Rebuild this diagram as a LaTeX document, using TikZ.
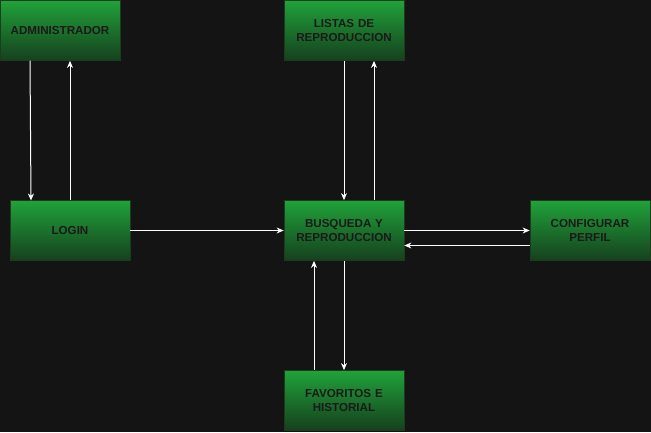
\documentclass[tikz,border=0pt]{standalone}
\usepackage{fontspec}
\setmainfont{Liberation Sans}
\usetikzlibrary{arrows.meta}
\definecolor{bg}{RGB}{20,20,20}
\definecolor{gtop}{RGB}{32,162,58}
\definecolor{gbot}{RGB}{22,64,30}
\definecolor{bord}{RGB}{28,60,30}
\definecolor{txt}{RGB}{26,26,26}
\tikzset{
  box/.style={draw=bord, line width=0.8pt, top color=gtop, bottom color=gbot,
    minimum width=120pt, minimum height=60pt, inner sep=0pt, align=center,
    text=txt, font=\fontsize{11.6}{14.5}\selectfont\bfseries, text width=116pt},
  link/.style={draw=white, line width=1pt, -{Stealth[length=7pt,width=6pt]}}
}
\begin{document}
\begin{tikzpicture}[x=1pt,y=-1pt]
\fill[bg] (0,0) rectangle (651,432);
\useasboundingbox (0,0) rectangle (651,432);
\node[box] (admin) at (60,30.5) {ADMINISTRADOR};
\node[box] (listas) at (344,30.5) {LISTAS DE\\REPRODUCCION};
\node[box] (login) at (70,230.5) {LOGIN};
\node[box] (busq) at (344,230.5) {BUSQUEDA Y\\REPRODUCCION};
\node[box] (conf) at (590,230.5) {CONFIGURAR\\PERFIL};
\node[box] (fav) at (344,400.5) {FAVORITOS E\\HISTORIAL};
\coordinate (a1) at (30,60.5);
\coordinate (a2) at (31,200.5);
\draw[link] (a1) -- (a2);
\draw[link] (login.north -| 70,0) -- (admin.south -| 70,0);
\draw[link] (listas.south) -- (busq.north);
\draw[link] (busq.north -| 374,0) -- (listas.south -| 374,0);
\draw[link] (login.east) -- (busq.west);
\draw[link] (busq.east) -- (conf.west);
\draw[link] ([yshift=-15pt]conf.west) -- ([yshift=-15pt]busq.east);
\draw[link] (busq.south) -- (fav.north);
\draw[link] (fav.north -| 314,0) -- (busq.south -| 314,0);
\end{tikzpicture}
\end{document}
